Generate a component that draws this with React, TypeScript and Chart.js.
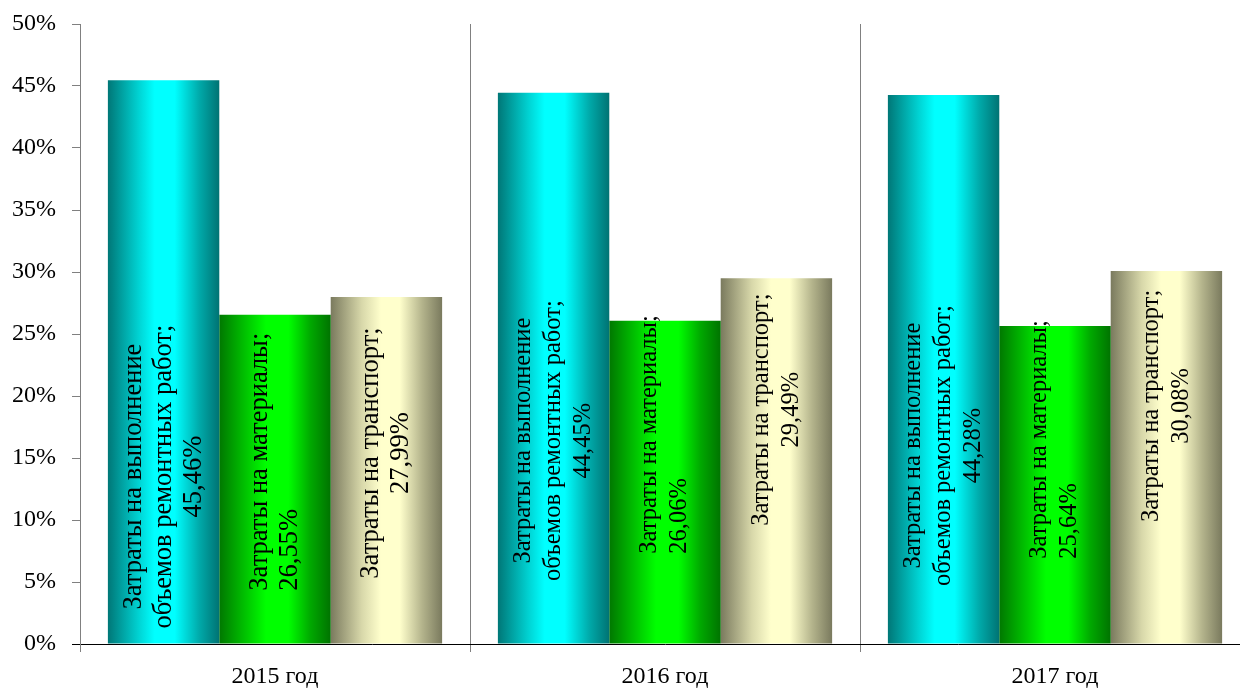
import React, { useEffect, useRef } from 'react';
import { Chart, registerables } from 'chart.js';

Chart.register(...registerables);

const categories = ['2015 год', '2016 год', '2017 год'];
const seriesNames = [
  'Затраты на выполнение объемов ремонтных работ',
  'Затраты на материалы',
  'Затраты на транспорт',
];
const repairWorks = [45.46, 44.45, 44.28];
const materials = [26.55, 26.06, 25.64];
const transport = [27.99, 29.49, 30.08];
const labelLines = [
  ['Затраты на выполнение', 'объемов ремонтных работ;'],
  ['Затраты на материалы;'],
  ['Затраты на транспорт;'],
];
const yTicks = [0, 5, 10, 15, 20, 25, 30, 35, 40, 45, 50];

// label block anchor (in axis value units) per dataset / category
const labelAnchor = [
  [13.5, 16.4, 16.0],
  [14.7, 16.9, 16.5],
  [15.4, 18.9, 19.2],
];
const labelFontSize = [26.5, 24.5, 24.5];
const labelAlign = ['center', 'left', 'center'];

const gradientStops = [
  [[0, '#007777'], [0.28, '#00d4d4'], [0.42, '#00ffff'], [0.6, '#00ffff'], [0.82, '#00aaaa'], [1, '#007373']],
  [[0, '#007800'], [0.3, '#00d800'], [0.42, '#00ff00'], [0.62, '#00ff00'], [0.82, '#00a800'], [1, '#007300']],
  [[0, '#7a7a5e'], [0.28, '#d8d8aa'], [0.45, '#ffffcc'], [0.62, '#ffffcc'], [0.82, '#b4b48c'], [1, '#7a7a5e']],
];

const CAT_PCT = 0.857;

function fmt(v: number) {
  return v.toFixed(2).replace('.', ',') + '%';
}

function makeFill(dsIndex: number) {
  return (ctx: any) => {
    const chart = ctx.chart;
    const xs = chart.scales?.x;
    const fallback = gradientStops[dsIndex][2][1];
    if (!xs || ctx.dataIndex === undefined) return fallback;
    const n = categories.length;
    const catW = xs.width / n;
    const groupW = catW * CAT_PCT;
    const barW = groupW / 3;
    const center = xs.getPixelForValue(ctx.dataIndex);
    const left = center - groupW / 2 + dsIndex * barW;
    if (!isFinite(left) || !isFinite(barW) || barW <= 0) return fallback;
    const g = chart.ctx.createLinearGradient(left, 0, left + barW, 0);
    gradientStops[dsIndex].forEach(([o, c]: any) => g.addColorStop(o, c));
    return g;
  };
}

const barLabelPlugin = {
  id: 'barLabels',
  afterDatasetsDraw(chart: any) {
    const c = chart.ctx;
    const ys = chart.scales.y;
    chart.data.datasets.forEach((ds: any, di: number) => {
      const meta = chart.getDatasetMeta(di);
      meta.data.forEach((bar: any, i: number) => {
        const lines = [...labelLines[di], fmt(ds.data[i])];
        const size = labelFontSize[i];
        const lh = 30;
        c.save();
        c.font = `${size}px "Liberation Serif", "Times New Roman", serif`;
        c.fillStyle = '#000';
        c.textBaseline = 'middle';
        const cy = ys.getPixelForValue(labelAnchor[di][i]);
        c.translate(bar.x, cy);
        c.rotate(-Math.PI / 2);
        const widths = lines.map((l) => c.measureText(l).width);
        const maxW = Math.max(...widths);
        lines.forEach((l, k) => {
          const off = (k - (lines.length - 1) / 2) * lh;
          if (labelAlign[di] === 'left') {
            c.textAlign = 'left';
            c.fillText(l, -maxW / 2, off);
          } else {
            c.textAlign = 'center';
            c.fillText(l, 0, off);
          }
        });
        c.restore();
      });
    });
  },
};

export default function App() {
  const ref = useRef<HTMLCanvasElement>(null);
  useEffect(() => {
    if (!ref.current) return;
    const font = { family: '"Liberation Serif", "Times New Roman", serif', size: 24 };
    const chart = new Chart(ref.current, {
      type: 'bar',
      data: {
        labels: categories,
        datasets: [repairWorks, materials, transport].map((d, di) => ({
          label: seriesNames[di],
          data: d,
          backgroundColor: makeFill(di),
          borderWidth: 0,
          barPercentage: 1,
          categoryPercentage: CAT_PCT,
        })),
      },
      options: {
        responsive: false,
        animation: false,
        layout: { padding: { left: 0, top: 24, right: 10, bottom: 0 } },
        plugins: { legend: { display: false }, tooltip: { enabled: false } },
        scales: {
          x: {
            grid: {
              offset: true,
              color: '#808080',
              lineWidth: 1,
              drawOnChartArea: true,
              drawTicks: true,
              tickLength: 8,
            },
            border: { color: '#000', width: 1 },
            ticks: { color: '#000', font, padding: 10 },
            afterFit: (s: any) => {
              s.height = 45;
              s.paddingLeft = 0;
              s.paddingRight = 0;
            },
          },
          y: {
            min: 0,
            max: 50,
            afterBuildTicks: (s: any) => {
              s.ticks = yTicks.map((v) => ({ value: v }));
            },
            grid: {
              drawOnChartArea: false,
              drawTicks: true,
              tickLength: 8,
              color: (ctx: any) => (ctx.tick && ctx.tick.value === 0 ? '#000' : '#808080'),
            },
            border: { color: '#808080', width: 1 },
            ticks: { color: '#000', font, padding: 16, callback: (v: any) => v + '%' },
            afterFit: (s: any) => {
              s.width = 80;
              s.paddingTop = 0;
              s.paddingBottom = 0;
            },
          },
        },
      },
      plugins: [barLabelPlugin],
    });
    return () => chart.destroy();
  }, []);
  return (
    <div style={{ position: 'fixed', left: 0, top: 0, width: 1240, height: 689, overflow: 'hidden', background: '#fff' }}>
      <canvas ref={ref} width={1260} height={689} style={{ display: 'block' }} />
    </div>
  );
}
